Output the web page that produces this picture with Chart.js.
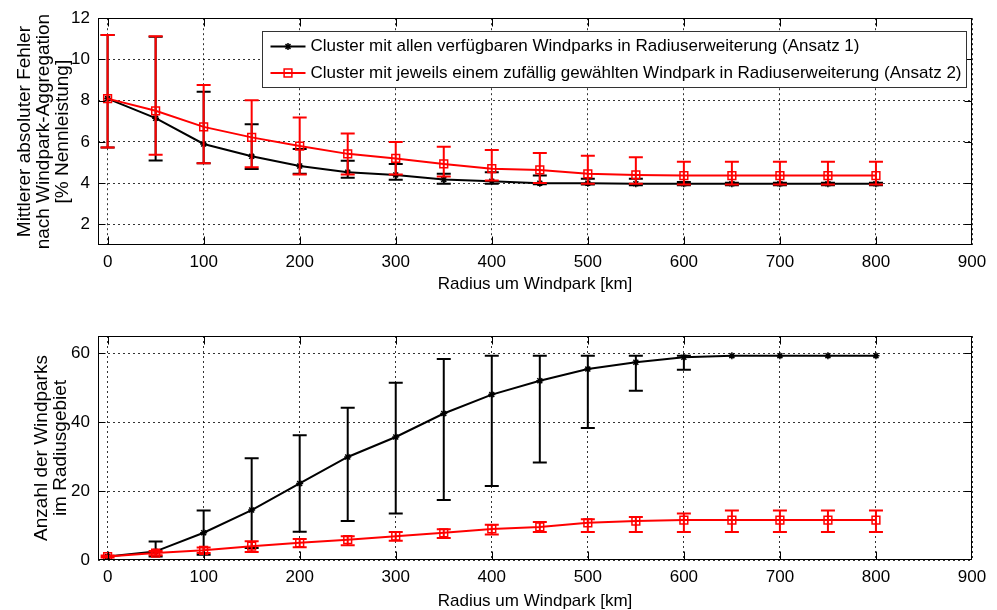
<!DOCTYPE html>
<html><head><meta charset="utf-8">
<script src="https://cdn.jsdelivr.net/npm/chart.js@4.4.1/dist/chart.umd.min.js"></script>
<style>
html,body{margin:0;padding:0;background:#fff;width:997px;height:610px;overflow:hidden}
canvas{position:absolute;left:0}
#c1{top:0}
#c2{top:300px}
</style></head><body>
<canvas id="c1" width="997" height="300"></canvas>
<canvas id="c2" width="997" height="310"></canvas>
<script>
// ---------- data ----------
const radiusKm = [0,50,100,150,200,250,300,350,400,450,500,550,600,650,700,750,800];
const xTickValues = [0,100,200,300,400,500,600,700,800,900];
const yTicksError = [2,4,6,8,10,12];
const yTicksCount = [0,20,40,60];
const seriesNames = [
  'Cluster mit allen verfügbaren Windparks in Radiuserweiterung (Ansatz 1)',
  'Cluster mit jeweils einem zufällig gewählten Windpark in Radiuserweiterung (Ansatz 2)'
];
const xTitle = 'Radius um Windpark [km]';
const yTitleError = ['Mittlerer absoluter Fehler','nach Windpark-Aggregation','[% Nennleistung]'];
const yTitleCount = ['Anzahl der Windparks','im Radiusgebiet'];

// top panel: mean absolute error [% Nennleistung]
const errA1Mean  = [8.1, 7.15, 5.9, 5.3, 4.83, 4.53, 4.4, 4.18, 4.09, 4.0, 4.0, 3.97, 3.97, 3.97, 3.97, 3.97, 3.97];
const errA1Upper = [11.18, 11.1, 8.43, 6.86, 5.66, 5.09, 4.93, 4.45, 4.53, 4.37, 4.21, 4.21, 4.05, 4.02, 4.02, 4.02, 4.02];
const errA1Lower = [5.73, 5.1, 4.96, 4.69, 4.45, 4.26, 4.17, 3.97, 3.97, 3.95, 3.93, 3.9, 3.9, 3.9, 3.9, 3.9, 3.9];
const errA2Mean  = [8.1, 7.51, 6.73, 6.22, 5.8, 5.42, 5.2, 4.93, 4.7, 4.64, 4.45, 4.4, 4.37, 4.37, 4.37, 4.37, 4.37];
const errA2Upper = [11.18, 11.13, 8.76, 8.02, 7.18, 6.41, 6.0, 5.77, 5.61, 5.46, 5.33, 5.25, 5.04, 5.04, 5.04, 5.04, 5.04];
const errA2Lower = [5.73, 5.38, 4.96, 4.77, 4.42, 4.42, 4.42, 4.32, 4.13, 4.01, 3.97, 3.97, 3.93, 3.93, 3.93, 3.93, 3.93];

// bottom panel: number of wind parks in radius
const cntA1Mean  = [1, 2.5, 7.9, 14.5, 22.2, 29.9, 35.7, 42.5, 48, 52, 55.4, 57.4, 58.8, 59.3, 59.3, 59.3, 59.3];
const cntA1Upper = [1, 5.4, 14.4, 29.5, 36.2, 44.2, 51.4, 58.3, 59.3, 59.3, 59.3, 59.3, 59.3, 59.3, 59.3, 59.3, 59.3];
const cntA1Lower = [1, 1, 1.5, 3.5, 8.2, 11.3, 13.5, 17.4, 21.5, 28.3, 38.3, 49.1, 55.2, 59.3, 59.3, 59.3, 59.3];
const cntA2Mean  = [1, 2.0, 2.8, 4.0, 5.0, 5.9, 6.9, 7.9, 9.0, 9.6, 10.8, 11.3, 11.6, 11.6, 11.6, 11.6, 11.6];
const cntA2Upper = [1.3, 2.6, 3.6, 5.45, 6.1, 6.9, 8.1, 8.9, 10.2, 11.0, 11.8, 12.5, 13.5, 14.4, 14.4, 14.4, 14.4];
const cntA2Lower = [0.7, 1.4, 2.0, 2.35, 3.7, 4.3, 5.6, 6.4, 7.4, 8.1, 8.1, 8.1, 8.1, 8.1, 8.1, 8.1, 8.1];

// ---------- styling ----------
const FONT = '"Liberation Sans", Arial, sans-serif';
Chart.defaults.font.family = FONT;
Chart.defaults.font.size = 17;
Chart.defaults.color = '#000';

const styleA1 = {borderColor:'#000', backgroundColor:'#000', borderWidth:2, pointStyle:'star',
  pointRadius:3.5, pointBorderWidth:1.5, pointBackgroundColor:'#000', pointBorderColor:'#000', errWidth:2, order:2};
const styleA2 = {borderColor:'#f00', backgroundColor:'#f00', borderWidth:2, pointStyle:'rect',
  pointRadius:5.5, pointBorderWidth:1.5, pointBackgroundColor:'rgba(0,0,0,0)', pointBorderColor:'#f00', errWidth:2, order:1};

function makeDataset(label, mean, upper, lower, style){
  return Object.assign({label, data: radiusKm.map((x,i)=>({x, y: mean[i]})),
    errUpper: upper, errLower: lower, tension:0, fill:false, pointHoverRadius:0}, style);
}

const errorBars = {
  id:'errorBars',
  beforeDatasetDraw(chart, args){
    const d = chart.data.datasets[args.index];
    if(!d.errUpper) return;
    const xs = chart.scales.x, ys = chart.scales.y, ctx = chart.ctx;
    ctx.save();
    ctx.strokeStyle = d.borderColor; ctx.lineWidth = d.errWidth;
    ctx.beginPath();
    radiusKm.forEach((r,i)=>{
      const px = xs.getPixelForValue(r);
      const pu = ys.getPixelForValue(d.errUpper[i]);
      const pl = ys.getPixelForValue(d.errLower[i]);
      if (Math.abs(pu-pl) < 0.5) return;
      ctx.moveTo(px,pu); ctx.lineTo(px,pl);
      ctx.moveTo(px-7,pu); ctx.lineTo(px+7,pu);
      ctx.moveTo(px-7,pl); ctx.lineTo(px+7,pl);
    });
    ctx.stroke();
    ctx.restore();
  }
};

const frame = {
  id:'frame',
  afterDatasetsDraw(chart){
    const {ctx, chartArea:a, scales} = chart;
    ctx.save();
    ctx.strokeStyle = '#000'; ctx.lineWidth = 1;
    const L = Math.round(a.left)+0.5, R = Math.round(a.right)-0.5, T = Math.round(a.top)+0.5, B = Math.round(a.bottom)-0.5;
    ctx.strokeRect(L, T, R-L, B-T);
    ctx.beginPath();
    scales.x.ticks.forEach(t=>{
      const px = Math.round(scales.x.getPixelForValue(t.value))+0.5;
      if (px <= L+1 || px >= R-1) return;
      ctx.moveTo(px,B); ctx.lineTo(px,B-8);
      ctx.moveTo(px,T); ctx.lineTo(px,T+8);
    });
    scales.y.ticks.forEach(t=>{
      const py = Math.round(scales.y.getPixelForValue(t.value))+0.5;
      if (py <= T+1 || py >= B-1) return;
      ctx.moveTo(L,py); ctx.lineTo(L+7,py);
      ctx.moveTo(R,py); ctx.lineTo(R-7,py);
    });
    ctx.stroke();
    ctx.restore();
  }
};

const legendBox = {
  id:'legendBox',
  afterDraw(chart, args, opts){
    if(!opts || !opts.show) return;
    const ctx = chart.ctx, a = chart.chartArea;
    const x0 = Math.round(a.left + 164) + 0.5, y0 = Math.round(a.top + 13) + 0.5, w = 704, h = 56;
    ctx.save();
    ctx.fillStyle = '#fff'; ctx.fillRect(x0, y0, w, h);
    ctx.strokeStyle = '#333'; ctx.lineWidth = 1; ctx.strokeRect(x0, y0, w, h);
    chart.data.datasets.forEach((d,i)=>{
      const cy = y0 + 15 + i*26.5;
      ctx.strokeStyle = d.borderColor; ctx.lineWidth = d.borderWidth;
      ctx.beginPath(); ctx.moveTo(x0+8, cy); ctx.lineTo(x0+43, cy); ctx.stroke();
      ctx.lineWidth = d.pointBorderWidth; ctx.fillStyle = d.pointBackgroundColor; ctx.strokeStyle = d.pointBorderColor;
      Chart.helpers.drawPoint(ctx, {pointStyle:d.pointStyle, radius:d.pointRadius, borderWidth:d.pointBorderWidth, rotation:0}, x0+25.5, cy);
      ctx.fillStyle = '#000'; ctx.font = '17px ' + FONT; ctx.textBaseline = 'middle'; ctx.textAlign = 'left';
      ctx.fillText(d.label, x0+48, cy);
    });
    ctx.restore();
  }
};

function makeOptions(cfg){
  return {
    responsive:false, animation:false, devicePixelRatio:1,
    layout:{padding:{left:0, right:25, top:cfg.padTop, bottom:0}},
    plugins:{legend:{display:false}, tooltip:{enabled:false}, legendBox:{show:cfg.legend}},
    scales:{
      x:{type:'linear', min:-10, max:900,
        afterBuildTicks:s=>{ s.ticks = xTickValues.map(v=>({value:v})); },
        afterFit:s=>{ s.height = cfg.xHeight; },
        ticks:{padding:7, maxRotation:0, autoSkip:false, font:{size:17}},
        grid:{color:'rgba(0,0,0,0.8)', lineWidth:1, drawTicks:false},
        border:{display:false, dash:[2,3]},
        title:{display:true, text:xTitle, font:{size:17, lineHeight:18/17}, padding:{top:0, bottom:cfg.xTitlePad}}
      },
      y:{type:'linear', min:cfg.yMin, max:cfg.yMax,
        afterBuildTicks:s=>{ s.ticks = cfg.yTicks.map(v=>({value:v})); },
        afterFit:s=>{ s.width = 98; },
        ticks:{padding:8, autoSkip:false, font:{size:17}},
        grid:{color:'rgba(0,0,0,0.8)', lineWidth:1, drawTicks:false},
        border:{display:false, dash:[2,3]},
        title:{display:true, text:cfg.yTitle, font:{size:19, lineHeight:1}, padding:{top:cfg.yTitlePad, bottom:0}}
      }
    }
  };
}

new Chart(document.getElementById('c1'), {
  type:'line',
  data:{datasets:[
    makeDataset(seriesNames[0], errA1Mean, errA1Upper, errA1Lower, styleA1),
    makeDataset(seriesNames[1], errA2Mean, errA2Upper, errA2Lower, styleA2)
  ]},
  options: makeOptions({padTop:17, xHeight:55, xTitlePad:7, yMin:1, yMax:12, yTicks:yTicksError, yTitle:yTitleError, yTitlePad:15.5, legend:true}),
  plugins:[errorBars, frame, legendBox]
});

new Chart(document.getElementById('c2'), {
  type:'line',
  data:{datasets:[
    makeDataset(seriesNames[0], cntA1Mean, cntA1Upper, cntA1Lower, styleA1),
    makeDataset(seriesNames[1], cntA2Mean, cntA2Upper, cntA2Lower, styleA2)
  ]},
  options: makeOptions({padTop:36, xHeight:50, xTitlePad:0, yMin:0, yMax:65, yTicks:yTicksCount, yTitle:yTitleCount, yTitlePad:32.5, legend:false}),
  plugins:[errorBars, frame, legendBox]
});
</script>
</body></html>
